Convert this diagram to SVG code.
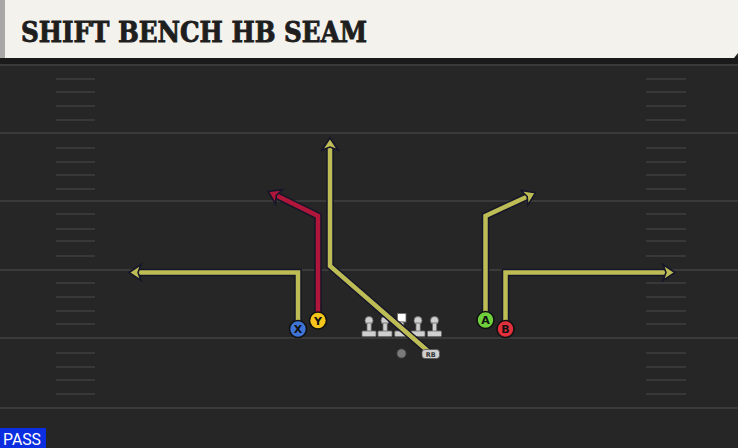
<svg xmlns="http://www.w3.org/2000/svg" width="738" height="448" viewBox="0 0 738 448">
<style>
.yard{stroke:#3a3a3a;stroke-width:2}
.hash{stroke:#383838;stroke-width:2}
.outline{fill:none;stroke:#16162a;stroke-width:7.5;stroke-linejoin:miter}
.route{fill:none;stroke:#bdbc55;stroke-width:4.5;stroke-linejoin:miter}
.red{stroke:#b0163a}
.head{fill:#bdbc55;stroke:#16162a;stroke-width:1.6;stroke-linejoin:miter}
.headr{fill:#b0163a;stroke:#16162a;stroke-width:1.6;stroke-linejoin:miter}
.lm{fill:#cfcfcf;stroke:#6a6a6a;stroke-width:0.8}
.rc{stroke:#111;stroke-width:1.6}
.rl{font-family:"DejaVu Sans","Liberation Sans",sans-serif;font-weight:bold;font-size:11px;fill:#111;text-anchor:middle}
.title{font-family:"DejaVu Serif","Liberation Serif",serif;font-weight:bold;font-size:27px;fill:#1e1e1e;stroke:#1e1e1e;stroke-width:0.9}
</style>
<rect x="0" y="0" width="738" height="448" fill="#262626"/>
<g id="field">
<line class="yard" x1="0" y1="65" x2="738" y2="65"/>
<line class="yard" x1="0" y1="133" x2="738" y2="133"/>
<line class="yard" x1="0" y1="201" x2="738" y2="201"/>
<line class="yard" x1="0" y1="270" x2="738" y2="270"/>
<line class="yard" x1="0" y1="338" x2="738" y2="338"/>
<line class="yard" x1="0" y1="408" x2="738" y2="408"/>
<g class="hash">
<line x1="56" y1="79" x2="95" y2="79"/><line x1="56" y1="92" x2="95" y2="92"/><line x1="56" y1="106" x2="95" y2="106"/><line x1="56" y1="120" x2="95" y2="120"/>
<line x1="56" y1="148" x2="95" y2="148"/><line x1="56" y1="162" x2="95" y2="162"/><line x1="56" y1="175" x2="95" y2="175"/><line x1="56" y1="189" x2="95" y2="189"/>
<line x1="56" y1="214" x2="95" y2="214"/><line x1="56" y1="229" x2="95" y2="229"/><line x1="56" y1="241" x2="95" y2="241"/><line x1="56" y1="256" x2="95" y2="256"/>
<line x1="56" y1="283" x2="95" y2="283"/><line x1="56" y1="297" x2="95" y2="297"/><line x1="56" y1="311" x2="95" y2="311"/><line x1="56" y1="324" x2="95" y2="324"/>
<line x1="56" y1="353" x2="95" y2="353"/><line x1="56" y1="367" x2="95" y2="367"/><line x1="56" y1="380" x2="95" y2="380"/><line x1="56" y1="394" x2="95" y2="394"/>
<line x1="646" y1="79" x2="686" y2="79"/><line x1="646" y1="92" x2="686" y2="92"/><line x1="646" y1="106" x2="686" y2="106"/><line x1="646" y1="120" x2="686" y2="120"/>
<line x1="646" y1="148" x2="686" y2="148"/><line x1="646" y1="162" x2="686" y2="162"/><line x1="646" y1="175" x2="686" y2="175"/><line x1="646" y1="189" x2="686" y2="189"/>
<line x1="646" y1="214" x2="686" y2="214"/><line x1="646" y1="229" x2="686" y2="229"/><line x1="646" y1="241" x2="686" y2="241"/><line x1="646" y1="256" x2="686" y2="256"/>
<line x1="646" y1="283" x2="686" y2="283"/><line x1="646" y1="297" x2="686" y2="297"/><line x1="646" y1="311" x2="686" y2="311"/><line x1="646" y1="324" x2="686" y2="324"/>
<line x1="646" y1="353" x2="686" y2="353"/><line x1="646" y1="367" x2="686" y2="367"/><line x1="646" y1="380" x2="686" y2="380"/><line x1="646" y1="394" x2="686" y2="394"/>
</g>
</g>
<g id="header">
<rect x="0" y="56" width="738" height="8" fill="#1a1a1a"/>
<polygon points="0,0 738,0 738,53 734,58 0,58" fill="#f4f2ec"/>
<rect x="0" y="0" width="5" height="58" fill="#a8a9a7"/>
<text class="title" x="21" y="42" textLength="346" lengthAdjust="spacingAndGlyphs">SHIFT BENCH HB SEAM</text>
</g>
<g id="line">
<g id="lt"><circle class="lm" cx="369" cy="320.5" r="4"/><rect class="lm" x="367" y="323" width="4.2" height="9"/><rect class="lm" x="362" y="331" width="14" height="5.5" rx="1"/></g>
<g id="lg"><circle class="lm" cx="385" cy="320.5" r="4"/><rect class="lm" x="383" y="323" width="4.2" height="9"/><rect class="lm" x="378" y="331" width="14" height="5.5" rx="1"/></g>
<g id="c"><rect x="397.5" y="313.5" width="8.5" height="8.5" fill="#ffffff" stroke="#6a6a6a" stroke-width="0.8"/><rect class="lm" x="399.6" y="322" width="4.2" height="10"/><rect class="lm" x="394.7" y="331" width="14" height="5.5" rx="1"/></g>
<g id="rg"><circle class="lm" cx="418" cy="320.5" r="4"/><rect class="lm" x="416" y="323" width="4.2" height="9"/><rect class="lm" x="411" y="331" width="14" height="5.5" rx="1"/></g>
<g id="rt"><circle class="lm" cx="434.5" cy="320.5" r="4"/><rect class="lm" x="432.5" y="323" width="4.2" height="9"/><rect class="lm" x="427.5" y="331" width="14" height="5.5" rx="1"/></g>
</g>
<g id="connectors">
<path class="outline" d="M298,322 V272.5 H137"/>
<path class="route" d="M298,322 V272.5 H137"/>
<polygon class="head" points="129,272.5 141,264.5 138,272.5 141,280.5"/>
<path class="outline" d="M318,313 V216 L275.5,195.1"/>
<path class="route red" d="M318,313 V216 L275.5,195.1"/>
<polygon class="headr" points="268.2,191.5 282.5,189.6 276.3,195.5 275.5,204"/>
<path class="outline" d="M429,352 L330,266 V146"/>
<path class="route" d="M429,352 L330,266 V146"/>
<polygon class="head" points="330,138 338,150 330,147 322,150"/>
<path class="outline" d="M485.5,313 V216 L528,196.2"/>
<path class="route" d="M485.5,313 V216 L528,196.2"/>
<polygon class="head" points="535.4,192.8 521.1,190.5 527.2,196.5 527.8,205.1"/>
<path class="outline" d="M505.5,322 V272.5 H667"/>
<path class="route" d="M505.5,322 V272.5 H667"/>
<polygon class="head" points="675,272.5 663,264.5 666,272.5 663,280.5"/>
</g>
<g id="qb"><circle cx="401.5" cy="353.5" r="4.5" fill="#7a7a7a" stroke="#4a4a4a" stroke-width="0.8"/></g>
<g id="rb"><rect x="422" y="349.5" width="17.5" height="9" rx="3" fill="#cfcfcf" stroke="#555" stroke-width="0.8"/><text x="430.7" y="356.7" font-family="DejaVu Sans,Liberation Sans,sans-serif" font-weight="bold" font-size="6.5" fill="#333" text-anchor="middle">RB</text></g>
<g id="x"><circle class="rc" cx="298" cy="329" r="8.5" fill="#3e74d6"/><text class="rl" x="298" y="333">X</text></g>
<g id="y"><circle class="rc" cx="318" cy="320.5" r="8.5" fill="#f6c61c"/><text class="rl" x="318" y="324.5">Y</text></g>
<g id="a"><circle class="rc" cx="485.5" cy="320" r="8.5" fill="#6fd03c"/><text class="rl" x="485.5" y="324">A</text></g>
<g id="b"><circle class="rc" cx="505.5" cy="329" r="8.5" fill="#e2303c"/><text class="rl" x="505.5" y="333">B</text></g>
<g id="pass"><rect x="0" y="428" width="46" height="20" fill="#0b2fe0"/><text x="3" y="444.5" font-family="Roboto,Liberation Sans,sans-serif" font-size="16" fill="#ffffff" textLength="38" lengthAdjust="spacingAndGlyphs">PASS</text></g>
</svg>
